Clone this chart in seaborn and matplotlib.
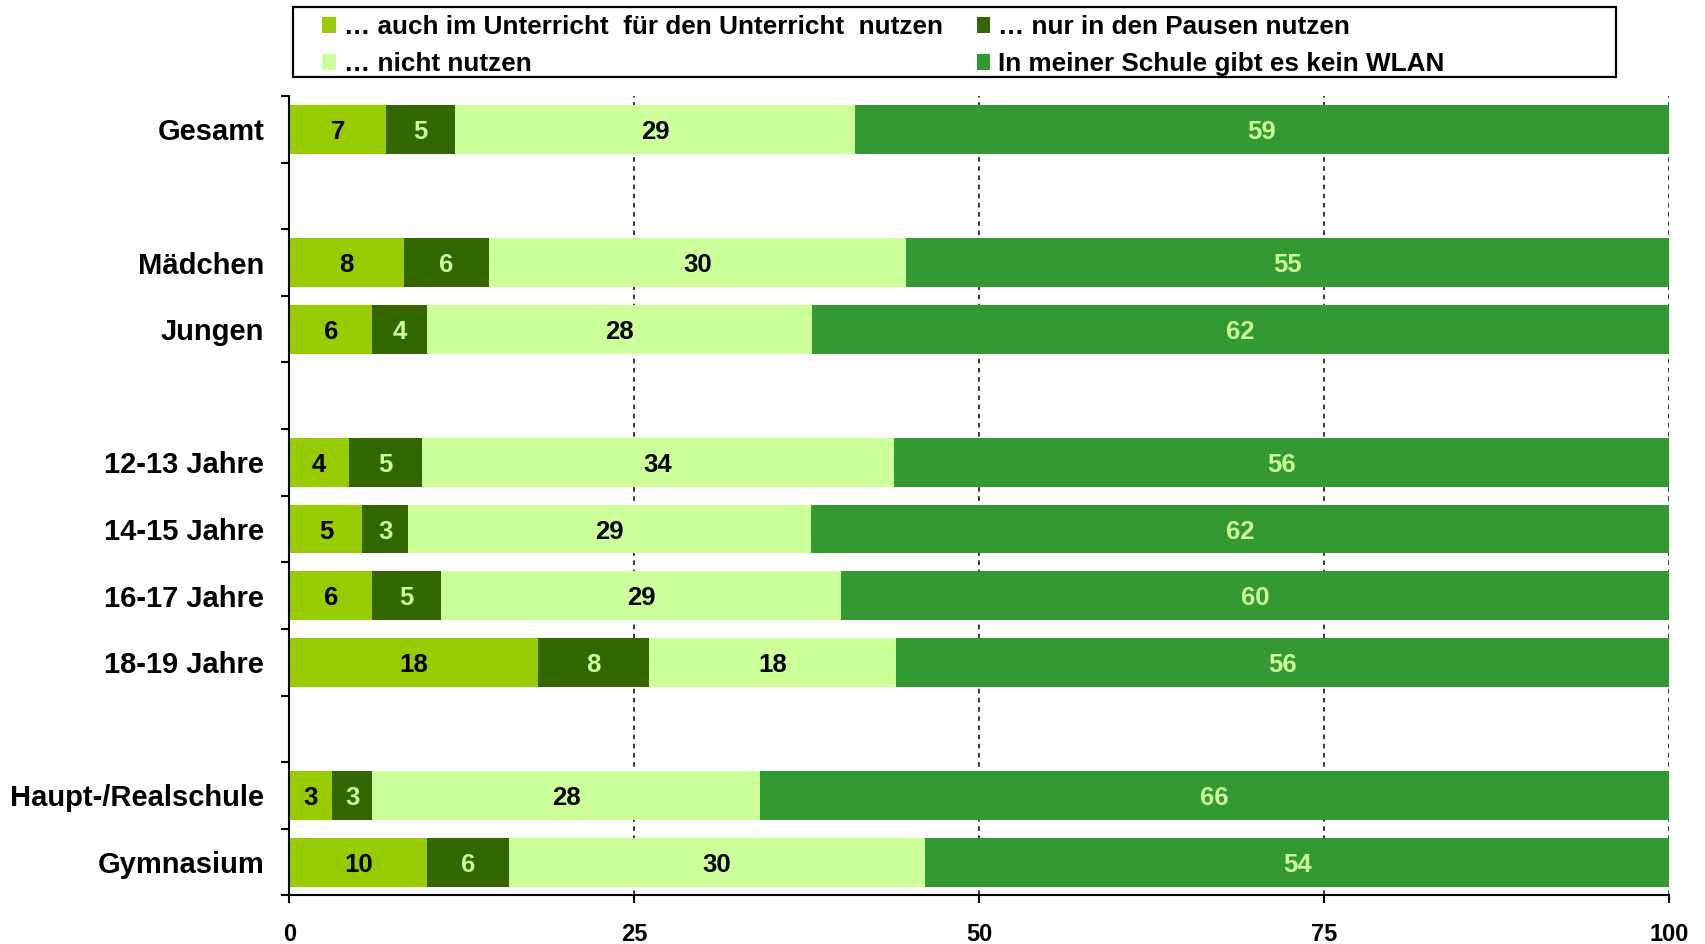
import matplotlib
matplotlib.use("Agg")
import matplotlib.pyplot as plt
from matplotlib.patches import Patch, Rectangle
import numpy as np
import pandas as pd
import seaborn as sns

# Row groups (blank row between groups)
groups = [
    ["Gesamt"],
    ["Mädchen", "Jungen"],
    ["12-13 Jahre", "14-15 Jahre", "16-17 Jahre", "18-19 Jahre"],
    ["Haupt-/Realschule", "Gymnasium"],
]

# Shares in percent per row (same order as the groups above)
unterricht = [7.0, 8.3, 6.0, 4.3, 5.3, 6.0, 18.0, 3.1, 10.0]
pausen = [5.0, 6.2, 4.0, 5.3, 3.3, 5.0, 8.1, 2.9, 5.9]
nicht = [29.0, 30.2, 27.9, 34.2, 29.2, 29.0, 17.9, 28.1, 30.2]
kein_wlan = [59.0, 55.3, 62.1, 56.2, 62.2, 60.0, 56.0, 65.9, 53.9]

series_names = [
    "… auch im Unterricht  für den Unterricht  nutzen",
    "… nur in den Pausen nutzen",
    "… nicht nutzen",
    "In meiner Schule gibt es kein WLAN",
]
x_ticks = [0, 25, 50, 75, 100]

colors = ["#99CC00", "#336600", "#CCFF99", "#339933"]
label_colors = ["black", "#CCFF99", "black", "#CCFF99"]

# row positions with a gap row between groups
labels, pos = [], []
p = 0
for g in groups:
    for name in g:
        labels.append(name)
        pos.append(p)
        p += 1
    p += 1
last_row = pos[-1]

series = [np.array(unterricht), np.array(pausen), np.array(nicht), np.array(kein_wlan)]
cum = np.cumsum(np.vstack(series), axis=0)
left = np.vstack([np.zeros(len(labels)), cum[:-1]])

df = pd.DataFrame({"label": labels, "pos": pos})
for i in range(4):
    df[f"cum{i}"] = cum[i]

plt.rcParams["font.family"] = ["Liberation Sans", "DejaVu Sans"]
plt.rcParams["font.weight"] = "bold"

fig = plt.figure(figsize=(17.06, 9.44), dpi=100)
ax = fig.add_axes([0.1696, 0.0515, 0.8087, 0.8468])

# stacked bars: draw the cumulative totals from the outermost segment inwards
for i in range(3, -1, -1):
    sns.barplot(data=df, x=f"cum{i}", y="pos", orient="h", native_scale=True,
                color=colors[i], saturation=1, width=0.735, linewidth=0,
                errorbar=None, ax=ax, zorder=2)

# value labels centred in each segment
for i in range(4):
    for r in range(len(labels)):
        v = series[i][r]
        ax.text(left[i][r] + v / 2, pos[r], f"{v:.0f}", ha="center", va="center_baseline",
                fontsize=18.5, fontweight="bold", color=label_colors[i], zorder=3)

ax.set_xlim(0, 100)
ax.set_ylim(last_row + 0.5, -0.5)
ax.set_xlabel("")
ax.set_ylabel("")

ax.set_xticks(x_ticks)
ax.set_xticklabels([str(t) for t in x_ticks], fontsize=17, fontweight="bold")
ax.tick_params(axis="x", direction="out", length=6, width=1.5, pad=14, color="black")

# boundary ticks on the y axis, category names at row centres
ax.set_yticks(np.arange(-0.5, last_row + 1, 1.0))
ax.set_yticklabels([])
ax.tick_params(axis="y", which="major", direction="out", length=6, width=1.5, color="black")
ax.set_yticks(pos, minor=True)
ax.set_yticklabels(labels, minor=True, fontsize=21, fontweight="bold")
ax.tick_params(axis="y", which="minor", length=0, pad=18)

ax.set_axisbelow(True)
ax.xaxis.grid(True, color="black", linestyle=(0, (3, 3)), linewidth=1.1)
ax.yaxis.grid(False)
for s in ["top", "right"]:
    ax.spines[s].set_visible(False)
for s in ["left", "bottom"]:
    ax.spines[s].set_linewidth(1.5)
    ax.spines[s].set_color("black")

# legend: frame plus two columns
fig.patches.append(Rectangle((0.1716, 0.9184), 0.7756, 0.0742, transform=fig.transFigure,
                             fill=False, edgecolor="black", linewidth=1.6, zorder=5))
handles = [Patch(facecolor=c, edgecolor="none") for c in colors]
leg_kw = dict(frameon=False, loc="upper left", borderpad=0, borderaxespad=0,
              handlelength=0.53, handleheight=0.58, handletextpad=0.3,
              labelspacing=0.5, prop={"weight": "bold", "size": 18.8})
fig.legend([handles[0], handles[2]], [series_names[0], series_names[2]],
           bbox_to_anchor=(0.1887, 0.9838), bbox_transform=fig.transFigure, **leg_kw)
fig.legend([handles[1], handles[3]], [series_names[1], series_names[3]],
           bbox_to_anchor=(0.5724, 0.9838), bbox_transform=fig.transFigure, **leg_kw)

fig.savefig("out.png", dpi=100)
